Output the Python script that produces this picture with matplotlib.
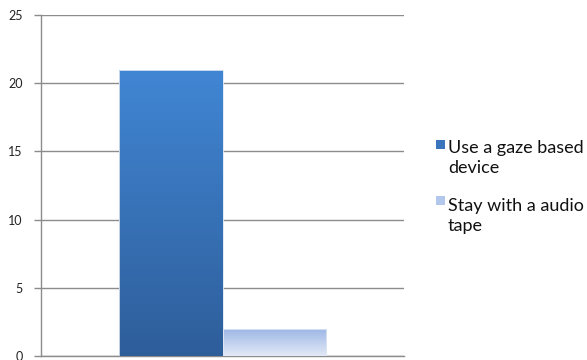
import numpy as np
import matplotlib
matplotlib.use("Agg")
import matplotlib.pyplot as plt
from matplotlib.colors import LinearSegmentedColormap
from matplotlib.patches import Rectangle

# Survey answers
series = ["Use a gaze based\ndevice", "Stay with a audio\ntape"]
values = [21, 2]
y_ticks = [0, 5, 10, 15, 20, 25]

# Vertical gradients (top colour, bottom colour) for each series
gradients = [("#4186D4", "#2E5E9A"), ("#9BB5E5", "#E3EAF7")]
legend_colors = ["#3A74BC", "#B3C6EB"]

W, H = 587, 360
fig = plt.figure(figsize=(W / 100, H / 100), dpi=100)
ax = fig.add_axes([41 / W, 4 / H, 363 / W, 341 / H])

bar_w = 0.285
offsets = [-bar_w / 2, bar_w / 2]
bars = ax.bar(offsets, values, width=bar_w, color="none", edgecolor="none", zorder=3)

grad = np.linspace(1, 0, 256).reshape(-1, 1)
for rect, (top, bottom) in zip(bars, gradients):
    cmap = LinearSegmentedColormap.from_list("g", [bottom, top])
    x0 = rect.get_x()
    x1 = x0 + rect.get_width()
    h = rect.get_height()
    im = ax.imshow(grad, cmap=cmap, aspect="auto", extent=[x0, x1, 0, h],
                   origin="upper", zorder=3, interpolation="bilinear")
    im.set_clip_path(rect)
    # thin light edge around each bar
    ax.add_patch(Rectangle((x0, 0), rect.get_width(), h, fill=False,
                           edgecolor="#DDE6F4", linewidth=0.6, zorder=4))

ax.set_xlim(-0.5, 0.5)
ax.set_ylim(0, 25)
ax.set_yticks(y_ticks)
ax.set_xticks([])
ax.grid(axis="y", color="#8C8C8C", linewidth=1.0, zorder=0)
ax.set_axisbelow(True)

for side in ["top", "right"]:
    ax.spines[side].set_visible(False)
for side in ["left", "bottom"]:
    ax.spines[side].set_color("#8C8C8C")
    ax.spines[side].set_linewidth(1.0)
ax.tick_params(axis="y", length=5, width=1.0, color="#8C8C8C",
               labelsize=9, labelcolor="#222222", pad=8)
for lbl in ax.get_yticklabels():
    lbl.set_fontfamily("Lato")

# Legend on the right: square swatch beside the first line of each label
swatch_tops = [140, 196]
last_baselines = [173, 231]
for label, color, top, base in zip(series, legend_colors, swatch_tops, last_baselines):
    fig.patches.append(Rectangle((436 / W, 1 - (top + 9) / H), 9 / W, 9 / H,
                                 transform=fig.transFigure, facecolor=color,
                                 edgecolor="none"))
    fig.text(448 / W, 1 - base / H, label, family="Lato", fontsize=13,
             color="#111111", ha="left", va="baseline", linespacing=1.3)

fig.savefig("out.png", dpi=100)
